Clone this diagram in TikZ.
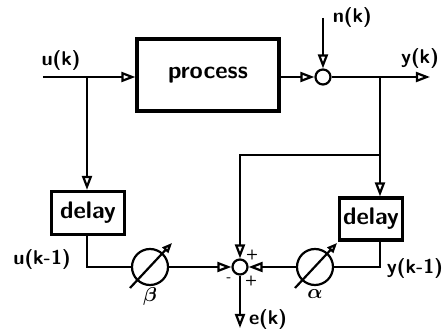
\documentclass[tikz,border=0pt]{standalone}
\usepackage{amsmath}
\usepackage{tikz}
\usetikzlibrary{arrows.meta}

\begin{document}
\begin{tikzpicture}[x=0.5pt,y=-0.5pt,font=\sffamily\bfseries,line width=1.1pt,
  blockbox/.style={draw,line width=1.6pt,inner sep=0pt,font=\sffamily\bfseries\large},
  sumnode/.style={draw,circle,minimum size=7.5pt,inner sep=0pt},
  gainnode/.style={draw,circle,minimum size=18pt,inner sep=0pt},
  sig/.style={-{Triangle[open,length=7pt,width=5pt]}},
  sgn/.style={font=\sffamily\bfseries\scriptsize,inner sep=0pt}]
  \useasboundingbox (0,0) rectangle (447,332);
  % blocks
  \node[blockbox,minimum width=71pt,minimum height=36pt] (proc) at (208,75) {process};
  \node[sumnode] (s1) at (323,77) {};
  \node[blockbox,minimum width=36.5pt,minimum height=21.5pt] (dl) at (88,213) {delay};
  \node[blockbox,minimum width=31.5pt,minimum height=21pt] (dr) at (371,219) {delay};
  \node[gainnode] (gb) at (150,267) {};
  \node[gainnode] (ga) at (315,267) {};
  \node[sumnode] (s2) at (240,267) {};
  \coordinate (uin) at (43,77);
  \coordinate (ubr) at (87,77);
  \coordinate (nin) at (323,18);
  \coordinate (yout) at (430,77);
  \coordinate (ybr) at (380,77);
  \coordinate (fb) at (380,155);
  \coordinate (eout) at (240,328);
  % signal lines
  \draw[sig] (uin) -- (uin -| proc.west);
  \draw[sig] (proc.east |- s1) -- (s1.west);
  \draw[sig] (nin) -- (s1.north);
  \draw[sig] (s1.east) -- (yout);
  \draw[sig] (ubr) -- (ubr |- dl.north);
  \draw[sig] (ybr) -- (ybr |- dr.north);
  \draw[sig] (fb) -| (s2.north);
  \draw (dl.south -| ubr) |- (gb.west);
  \draw[sig] (gb.east) -- (s2.west);
  \draw (dr.south -| ybr) |- (ga.east);
  \draw[sig] (ga.west) -- (s2.east);
  \draw[sig] (s2.south) -- (eout);
  % adjustable gains
  \foreach \g in {gb,ga}
    \draw[-{Triangle[open,length=5pt,width=4pt]}] ([shift={(-20,21)}]\g.center) -- ([shift={(22,-24)}]\g.center);
  % labels
  \node at (61,61) {u(k)};
  \node at (420,59) {y(k)};
  \node[right=1pt] at (nin) {n(k)};
  \node at (42,260) {u(k-1)};
  \node at (415,269) {y(k-1)};
  \node at (150,297) {$\boldsymbol{\beta}$};
  \node at (315,294) {$\boldsymbol{\alpha}$};
  \node at (268,320) {e(k)};
  \node[sgn] at (252,255) {+};
  \node[sgn] at (229,280) {-};
  \node[sgn] at (251,281) {+};
\end{tikzpicture}
\end{document}
